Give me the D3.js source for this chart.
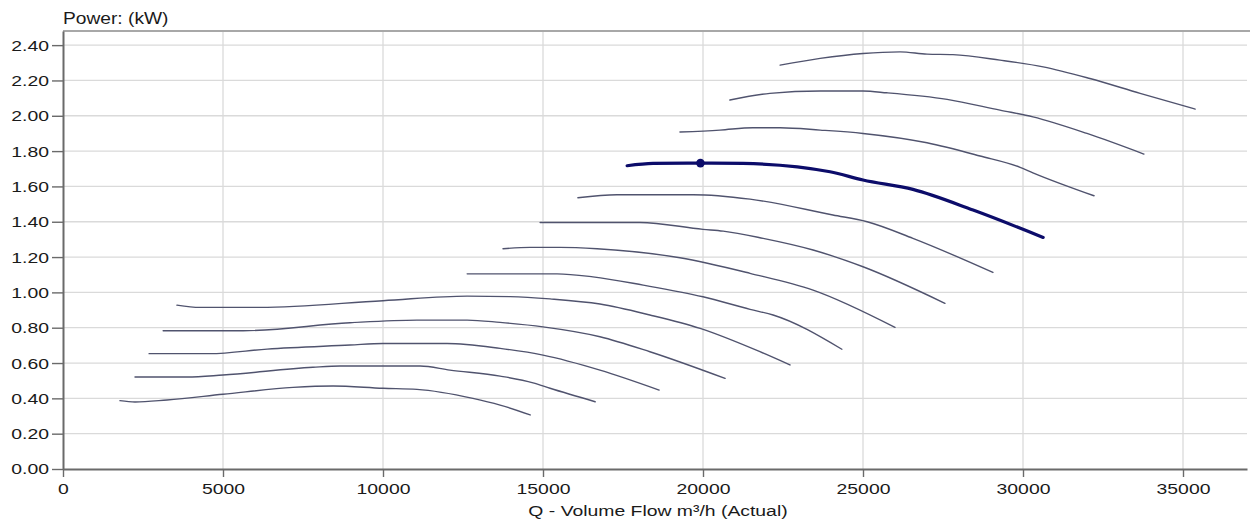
<!DOCTYPE html>
<html>
<head>
<meta charset="utf-8">
<script src="https://cdn.jsdelivr.net/npm/d3@7"></script>
<style>
  html, body { margin: 0; padding: 0; background: #fff; }
  svg { display: block; font-family: "Liberation Sans", Arial, sans-serif; }
</style>
</head>
<body>
<svg id="chart" width="1250" height="521"></svg>
<script>
// ---------- data (Q in m³/h, power in kW) ----------
const xTicks = [0, 5000, 10000, 15000, 20000, 25000, 30000, 35000];
const yTicks = [0, 0.2, 0.4, 0.6, 0.8, 1.0, 1.2, 1.4, 1.6, 1.8, 2.0, 2.2, 2.4];
const yAxisTitle = "Power: (kW)";
const xAxisTitle = "Q - Volume Flow m³/h (Actual)";

const curve1 = [[1780,0.387],[2250,0.379],[3250,0.391],[5000,0.423],[7190,0.462],[8440,0.470],[10000,0.457],[11060,0.451],[12810,0.400],[13660,0.362],[14600,0.306]];
const curve2 = [[2250,0.521],[3880,0.521],[5000,0.532],[7810,0.576],[8660,0.583],[11160,0.583],[12090,0.560],[13660,0.526],[14690,0.488],[15220,0.457],[16630,0.381]];
const curve3 = [[2690,0.653],[4590,0.653],[6380,0.679],[8970,0.702],[10000,0.711],[12000,0.711],[13660,0.683],[15000,0.645],[16780,0.560],[18630,0.447]];
const curve4 = [[3130,0.783],[5630,0.783],[8970,0.828],[11060,0.843],[12630,0.843],[13660,0.830],[15000,0.805],[16780,0.749],[18340,0.664],[20690,0.513]];
const curve5 = [[3560,0.928],[4280,0.915],[6160,0.915],[10000,0.953],[12630,0.979],[13970,0.976],[15220,0.963],[16780,0.934],[18340,0.872],[19910,0.796],[21780,0.664],[22720,0.589]];
const curve6 = [[12630,1.105],[15440,1.105],[16560,1.088],[18130,1.041],[20000,0.975],[21470,0.904],[22190,0.872],[24340,0.678]];
const curve7 = [[13750,1.247],[14590,1.255],[15530,1.255],[16690,1.247],[19280,1.196],[21470,1.108],[23440,1.013],[26000,0.802]];
const curve8 = [[14910,1.396],[18030,1.396],[20000,1.357],[20630,1.347],[21880,1.306],[23440,1.240],[25000,1.145],[27560,0.938]];
const curve9 = [[16090,1.536],[17310,1.553],[19690,1.553],[21470,1.528],[24060,1.438],[25130,1.400],[26560,1.306],[29060,1.113]];
const curveSelected = [[17630,1.717],[18440,1.730],[19920,1.732],[21250,1.730],[23970,1.683],[25000,1.636],[26560,1.583],[28440,1.466],[30630,1.311]];
const curve11 = [[19280,1.908],[20530,1.919],[21560,1.932],[22410,1.932],[23660,1.919],[25000,1.900],[27000,1.847],[28660,1.772],[29910,1.708],[30310,1.677],[32220,1.547]];
const curve12 = [[20840,2.089],[22090,2.127],[23660,2.140],[25000,2.140],[25750,2.130],[27630,2.093],[29280,2.032],[30310,1.994],[32000,1.900],[33780,1.783]];
const curve13 = [[22410,2.287],[23660,2.325],[25000,2.353],[26160,2.362],[27000,2.349],[27810,2.346],[29280,2.315],[30630,2.277],[32090,2.211],[33660,2.127],[35380,2.038]];
const operatingPoint = [19920, 1.732];

const thinCurves = [curve1, curve2, curve3, curve4, curve5, curve6, curve7, curve8, curve9, curve11, curve12, curve13];

// ---------- layout ----------
const svg = d3.select("#chart");
const mLeft = 63, mRight = 1247, mTop = 31, mBottom = 469;
const stretch = 1.25; // text in the reference is horizontally widened

const x = d3.scaleLinear().domain([0, 37000]).range([mLeft, mRight]);
const y = d3.scaleLinear().domain([0, 2.48]).range([mBottom, mTop]);

// grid
svg.append("g").selectAll("line").data(xTicks.filter(d => d > 0)).join("line")
  .attr("x1", d => x(d)).attr("x2", d => x(d))
  .attr("y1", mTop).attr("y2", mBottom)
  .attr("stroke", "#dadada").attr("stroke-width", 1.3);
svg.append("g").selectAll("line").data(yTicks.filter(d => d > 0)).join("line")
  .attr("x1", mLeft).attr("x2", mRight)
  .attr("y1", d => y(d)).attr("y2", d => y(d))
  .attr("stroke", "#dadada").attr("stroke-width", 1.3);

// top frame line
svg.append("line").attr("x1", mLeft).attr("x2", 1250).attr("y1", mTop).attr("y2", mTop)
  .attr("stroke", "#a8a8a8").attr("stroke-width", 2);

// axes
const yAxis = d3.axisLeft(y).tickValues(yTicks).tickFormat(d3.format(".2f")).tickSize(11).tickSizeOuter(0);
const gy = svg.append("g").attr("transform", `translate(${mLeft},0)`).call(yAxis);
gy.select(".domain").attr("stroke", "#6a6a6a").attr("stroke-width", 2);
gy.selectAll(".tick line").attr("stroke", "#6a6a6a").attr("stroke-width", 1.4);
gy.selectAll(".tick text").attr("font-size", 15.5).attr("fill", "#1a1a1a")
  .attr("font-family", "'Liberation Sans', Arial, sans-serif")
  .attr("x", -14 / stretch).attr("transform", `scale(${stretch},1)`);

const xAxis = d3.axisBottom(x).tickValues(xTicks).tickFormat(d3.format("d")).tickSize(8).tickSizeOuter(0);
const gx = svg.append("g").attr("transform", `translate(0,${mBottom})`).call(xAxis);
gx.select(".domain").attr("stroke", "#6a6a6a").attr("stroke-width", 2);
gx.selectAll(".tick line").attr("stroke", "#6a6a6a").attr("stroke-width", 1.4);
gx.selectAll(".tick text").attr("font-size", 15.5).attr("fill", "#1a1a1a")
  .attr("font-family", "'Liberation Sans', Arial, sans-serif")
  .attr("y", 14.5).attr("transform", `scale(${stretch},1)`);

// titles
svg.append("text").attr("transform", `translate(${mLeft},24) scale(1.2,1)`)
  .attr("font-size", 16).attr("fill", "#1a1a1a").text(yAxisTitle);
svg.append("text").attr("transform", `translate(658,516) scale(${stretch},1)`)
  .attr("text-anchor", "middle").attr("font-size", 15.5).attr("fill", "#1a1a1a").text(xAxisTitle);

// curves
const line = d3.line().x(d => x(d[0])).y(d => y(d[1])).curve(d3.curveMonotoneX);
svg.append("g").selectAll("path").data(thinCurves).join("path")
  .attr("d", line).attr("fill", "none")
  .attr("stroke", "#50536e").attr("stroke-width", 1.4).attr("stroke-linecap", "round");

svg.append("path").datum(curveSelected).attr("d", line).attr("fill", "none")
  .attr("stroke", "#0c0c6a").attr("stroke-width", 3.2).attr("stroke-linecap", "round");

svg.append("circle").attr("cx", x(operatingPoint[0])).attr("cy", y(operatingPoint[1]))
  .attr("r", 4.3).attr("fill", "#0c0c6a");
</script>
</body>
</html>
